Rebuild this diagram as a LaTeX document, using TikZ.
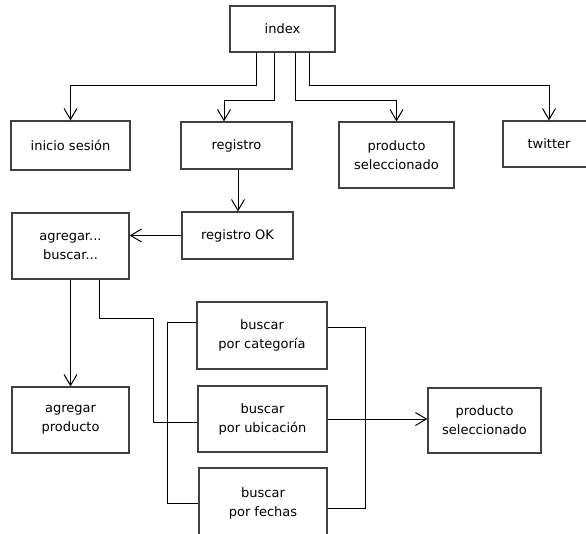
\documentclass[tikz,border=0pt]{standalone}
\usepackage{fontspec}
\setmainfont{DejaVu Sans}
\usetikzlibrary{arrows.meta, positioning}

\begin{document}
\begin{tikzpicture}[x=1pt, y=-1pt,
  page/.style={draw=black!75, line width=1.2pt, fill=white, align=center,
    inner sep=0pt, font=\fontsize{13}{19}\selectfont},
  link/.style={draw=black, line width=1pt},
  arr/.style={link, -{Straight Barb[length=11pt, width=13pt, line width=1pt]}}]
\useasboundingbox (0,0) rectangle (586,533);
\node (index) at (282.5,29) [page, minimum width=105pt, minimum height=46pt] {index};
\node (inicio) at (70.5,145.5) [page, minimum width=119pt, minimum height=49pt] {inicio sesión};
\node (registro) at (236.5,145.5) [page, minimum width=111pt, minimum height=47pt] {registro};
\node (prodsel) at (396.5,155) [page, minimum width=115pt, minimum height=66pt] {producto\\seleccionado};
\node (twitter) at (549,144) [page, minimum width=92pt, minimum height=46pt] {twitter};
\node (regok) at (237.5,235.5) [page, minimum width=111pt, minimum height=47pt] {registro OK};
\node (agrsel) at (70.5,246) [page, minimum width=117pt, minimum height=66pt] {agregar...\\buscar...};
\node (agrprod) at (70.5,420) [page, minimum width=117pt, minimum height=66pt] {agregar\\producto};
\node (bcat) at (262,335.5) [page, minimum width=130pt, minimum height=67pt] {buscar\\por categoría};
\node (bubi) at (262.5,419) [page, minimum width=129pt, minimum height=66pt] {buscar\\por ubicación};
\node (bfec) at (263,503) [page, minimum width=128pt, minimum height=70pt] {buscar\\por fechas};
\node (prodsel2) at (484.5,420.5) [page, minimum width=113pt, minimum height=65pt] {producto\\seleccionado};
\draw [arr] ([xshift=-26.5pt]index.south) -- ++(0,33) -| (inicio.north);
\draw [arr] ([xshift=-8.5pt]index.south) -- ++(0,48) -| ([xshift=-12.5pt]registro.north);
\draw [arr] ([xshift=12.5pt]index.south) -- ++(0,48) -| (prodsel.north);
\draw [arr] ([xshift=26.5pt]index.south) -- ++(0,33) -| (twitter.north);
\draw [arr] ([xshift=1.5pt]registro.south) -- ([xshift=0.5pt]regok.north);
\draw [arr] (regok.west) -- (regok.west -| agrsel.east);
\draw [arr] (agrsel.south) -- (agrprod.north);
\draw [link] ([xshift=28.5pt]agrsel.south) -- ++(0,39) -- ++(54,0) |- ([yshift=-3pt]bubi.west);
\draw [link] ([yshift=13.5pt]bcat.west) -- ++(-29,0) |- (bfec.west);
\draw [link] ([yshift=8.5pt]bcat.east) -- ++(38,0) |- ([yshift=-5pt]bfec.east);
\draw [arr] (bubi.east) -- (bubi.east -| prodsel2.west);
\end{tikzpicture}
\end{document}
